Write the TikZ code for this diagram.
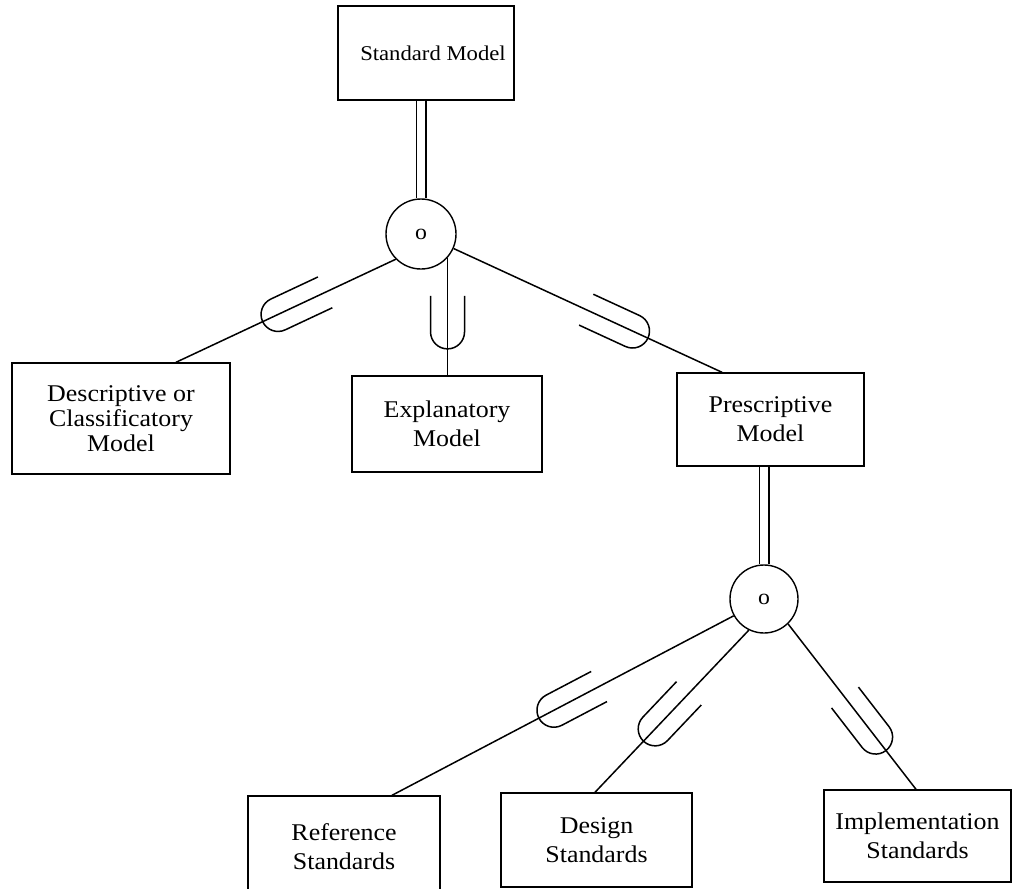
\documentclass[tikz,border=0pt]{standalone}
\usepackage{fontspec}
\setmainfont{Liberation Serif}[FakeStretch=1.08]
\usetikzlibrary{decorations.markings}

\tikzset{
  mbox/.style={draw, line width=1.4pt, inner sep=0pt, align=center,
    font=\fontsize{24}{29}\selectfont},
  junction/.style={draw, circle, line width=1.4pt, inner sep=0pt,
    font=\fontsize{22}{26}\selectfont},
  link/.style={line width=1.5pt},
  dlink/.style={line width=1.5pt, double=white, double distance=8pt},
  % subset cup on a connector: #1 = distance of the cup centre from the start,
  % #2 = length of the straight arms; the cup opens back towards the start
  usym/.style 2 args={postaction={decorate, decoration={markings,
    mark=at position #1 with {
      \draw[line width=1.5pt]
        (-#2,17pt) -- (0pt,17pt) arc[start angle=90, end angle=-90, radius=17pt]
        -- (-#2,-17pt);}}}}
}

\begin{document}
\begin{tikzpicture}[x=1pt, y=-1pt]
\useasboundingbox (0,0) rectangle (1013,889);
\clip (0,0) rectangle (1013,889);

% boxes
\node[mbox, minimum width=176pt, minimum height=94pt, font=\fontsize{21}{26}\selectfont]
  (sm) at (426,53) {\raisebox{-4pt}{\hspace*{14pt}Standard Model}};
\node[mbox, minimum width=218pt, minimum height=111pt, font=\fontsize{24}{25}\selectfont]
  (desc) at (121,418.5) {Descriptive or\\Classificatory\\Model};
\node[mbox, minimum width=190pt, minimum height=96pt] (expl) at (447,424) {Explanatory\\Model};
\node[mbox, minimum width=187pt, minimum height=93pt] (pres) at (770.5,419.5) {Prescriptive\\Model};
\node[mbox, minimum width=192pt, minimum height=102pt] (ref) at (344,847) {Reference\\Standards};
\node[mbox, minimum width=191pt, minimum height=94pt] (des) at (596.5,840) {Design\\Standards};
\node[mbox, minimum width=187pt, minimum height=92pt] (impl) at (917.5,836) {Implementation\\Standards};

% overlap junctions
\node[junction, minimum size=70pt] (j1) at (421,234) {o};
\node[junction, minimum size=68pt] (j2) at (764,599) {o};

% connectors
\draw[dlink] (sm.south -| j1.north) -- (j1.north);
\draw[link, usym={130pt}{52pt}] (j1.225) -- ([xshift=55pt]desc.north);
\draw[link, usym={74pt}{36pt}] (j1.-42) -- (j1.-42 |- expl.north);
\draw[link, usym={197pt}{51pt}] (j1.-24) -- ([xshift=-48.5pt]pres.north);

\draw[dlink] (pres.south -| j2.north) -- (j2.north);
\draw[link, usym={203pt}{51pt}] (j2.209) -- ([xshift=48pt]ref.north);
\draw[link, usym={136pt}{49pt}] (j2.244) -- ([xshift=-1.5pt]des.north);
\draw[link, usym={143pt}{50pt}] (j2.314) -- ([xshift=-1.5pt]impl.north);
\end{tikzpicture}
\end{document}
